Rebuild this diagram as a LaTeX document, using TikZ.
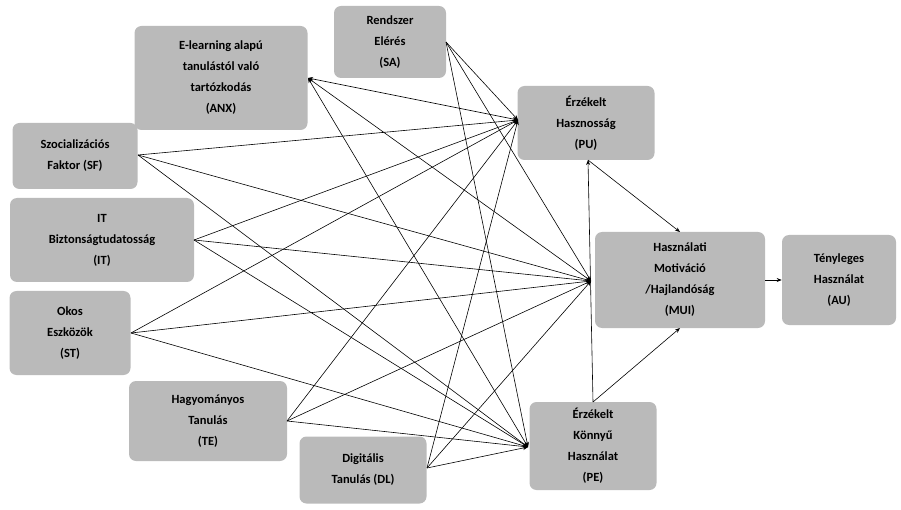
\documentclass[tikz,border=0pt]{standalone}
\usepackage{fontspec}
\setmainfont{Carlito}
\usetikzlibrary{arrows.meta}
\begin{document}
\begin{tikzpicture}[x=1pt,y=-1pt,>={Stealth[length=5pt,width=4pt]},semithick,
			every node/.style={align=center,font=\bfseries\fontsize{12.5}{21}\selectfont}]
			\tikzset{box/.style={fill=black!27,rounded corners=7pt,inner sep=2pt}}
			\useasboundingbox (0,0) rectangle (901,510);
			
			\node[box,minimum width=112,minimum height=72] (SA)  at (390,42)  {Rendszer\\Elérés\\(SA)};
			\node[box,minimum width=173,minimum height=104] (ANX) at (221,78) {E-learning alapú\\tanulástól való\\tartózkodás\\(ANX)};
			\node[box,minimum width=137,minimum height=74] (PU)  at (586,123) {Érzékelt\\Hasznosság\\(PU)};
			\node[box,minimum width=125,minimum height=66] (SF)  at (75,156)  {Szocializációs\\Faktor (SF)};
			\node[box,minimum width=184,minimum height=84] (IT)  at (102,240) {IT\\Biztonságtudatosság\\(IT)};
			\node[box,minimum width=170,minimum height=96] (MUI) at (680,280) {Használati\\Motiváció\\/Hajlandóság\\(MUI)};
			\node[box,minimum width=114,minimum height=90] (AU)  at (839,280) {Tényleges\\Használat\\(AU)};
			\node[box,minimum width=121,minimum height=84] (ST)  at (70,333)  {Okos\\Eszközök\\(ST)};
			\node[box,minimum width=158,minimum height=80] (TE)  at (208,421) {Hagyományos\\Tanulás\\(TE)};
			\node[box,minimum width=127,minimum height=67] (DL)  at (363,470) {Digitális\\Tanulás (DL)};
			\node[box,minimum width=127,minimum height=88] (PE)  at (593,446) {Érzékelt\\Könnyű\\Használat\\(PE)};
			
			\coordinate (pu) at (518,120);
			\coordinate (mui) at (591,281);
			\coordinate (pe) at (528,447);
			
			\foreach \s/\p in {SA/{446,42},SF/{138,155},IT/{194,240},ST/{131,333},TE/{287,421},DL/{427,468}}
			  \foreach \t in {pu,mui,pe}
			    \draw[->] (\p) -- (\t);
			\foreach \t in {pu,mui,pe}
			  \draw[<->] (308,78) -- (\t);
			
			\draw[->] (593,402) -- (588,160);
			\draw[->] (588,160) -- (680,232);
			\draw[->] (593,402) -- (680,328);
			\draw[->] (MUI) -- (AU);
			\end{tikzpicture}
\end{document}
